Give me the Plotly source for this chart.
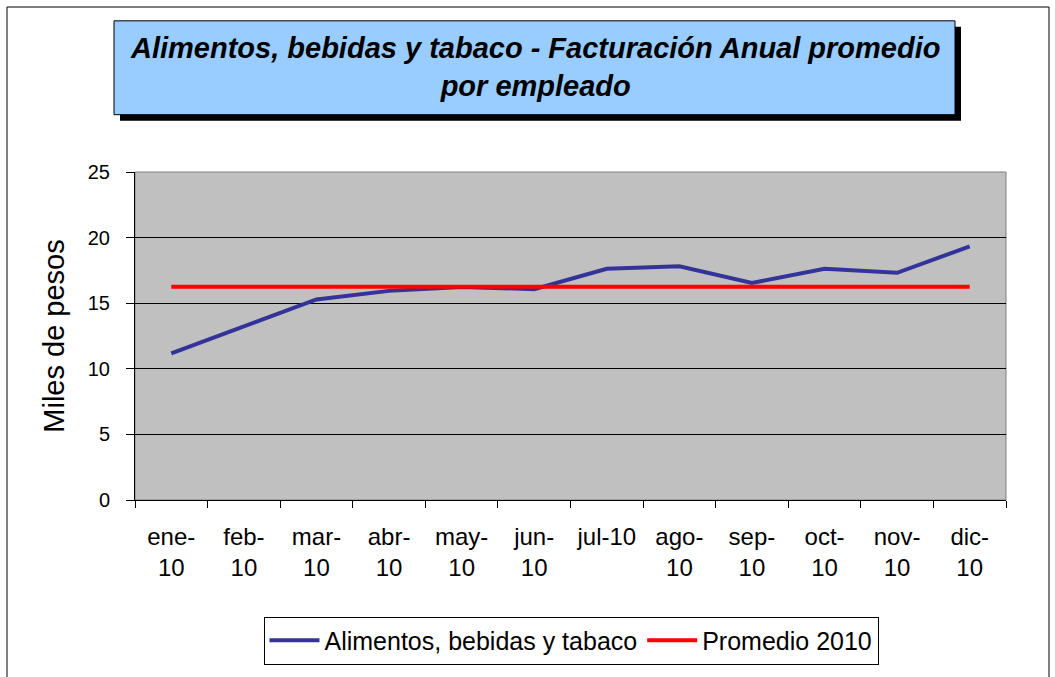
import plotly.graph_objects as go

categories = ["ene-<br>10", "feb-<br>10", "mar-<br>10", "abr-<br>10", "may-<br>10", "jun-<br>10",
              "jul-10", "ago-<br>10", "sep-<br>10", "oct-<br>10", "nov-<br>10", "dic-<br>10"]
alimentos = [11.17, 13.23, 15.29, 15.94, 16.24, 16.07, 17.62, 17.82, 16.54, 17.62, 17.32, 19.33]
promedio = [16.25] * 12
y_ticks = [0, 5, 10, 15, 20, 25]

W, H = 1055, 677
L, R, T, B = 135, 1006, 172, 504

def px(x):
    return (x - L) / (R - L)

def py(y):
    return (B - y) / (B - T)

FONT = "Liberation Sans, Arial, sans-serif"

fig = go.Figure()
fig.add_trace(go.Scatter(x=categories, y=alimentos, mode="lines", name="Alimentos, bebidas y tabaco",
                         line=dict(color="#333399", width=4)))
fig.add_trace(go.Scatter(x=categories, y=promedio, mode="lines", name="Promedio 2010",
                         line=dict(color="#FF0000", width=4)))

shapes = [
    # outer border
    dict(type="rect", xref="paper", yref="paper", x0=px(7), x1=px(1049), y0=py(5), y1=py(720),
         line=dict(color="black", width=1), fillcolor="rgba(0,0,0,0)", layer="below"),
    # plot area frame (gray top/right)
    dict(type="rect", xref="paper", yref="paper", x0=0, x1=1, y0=0, y1=1,
         line=dict(color="#808080", width=1), fillcolor="rgba(0,0,0,0)", layer="below"),
    # title shadow
    dict(type="rect", xref="paper", yref="paper", x0=px(120), x1=px(961), y0=py(25), y1=py(120),
         line=dict(color="black", width=0), fillcolor="black"),
    # title box
    dict(type="rect", xref="paper", yref="paper", x0=px(114), x1=px(955), y0=py(19), y1=py(114),
         line=dict(color="black", width=1), fillcolor="#99CCFF"),
]

fig.update_layout(
    width=W, height=H,
    margin=dict(l=L, r=W - R, t=T, b=H - B),
    paper_bgcolor="white",
    plot_bgcolor="#C0C0C0",
    font=dict(family=FONT, color="black", size=20),
    shapes=shapes,
    annotations=[dict(
        xref="paper", yref="paper", x=px(534.5), y=py(66), xanchor="center", yanchor="middle",
        text="<b><i>Alimentos, bebidas y tabaco - Facturación Anual promedio<br>por empleado</i></b>",
        showarrow=False, font=dict(family=FONT, size=29, color="black"), align="center",
    )],
    showlegend=True,
    legend=dict(orientation="h", x=px(571), y=py(622), xanchor="center", yanchor="top",
                bordercolor="black", borderwidth=1, bgcolor="white",
                font=dict(family=FONT, size=25), tracegroupgap=0, itemwidth=50),
    xaxis=dict(
        type="category", range=[-0.5, 11.5], showgrid=False, showline=True, linecolor="black", linewidth=1,
        ticks="outside", tickson="boundaries", ticklen=7, tickcolor="black",
        tickfont=dict(family=FONT, size=24), zeroline=False, ticklabelstandoff=15,
    ),
    yaxis=dict(
        range=[0, 25], tickvals=y_ticks, showgrid=True, gridcolor="black", gridwidth=1,
        showline=True, linecolor="black", linewidth=1, ticks="outside", ticklen=8, tickcolor="black",
        tickfont=dict(family=FONT, size=20), zeroline=False, ticklabelstandoff=12,
        title=dict(text="Miles de pesos", font=dict(family=FONT, size=29), standoff=14),
    ),
)

fig.write_html("out.html", post_script="document.body.style.margin='0px';",
               config={"displayModeBar": False})
